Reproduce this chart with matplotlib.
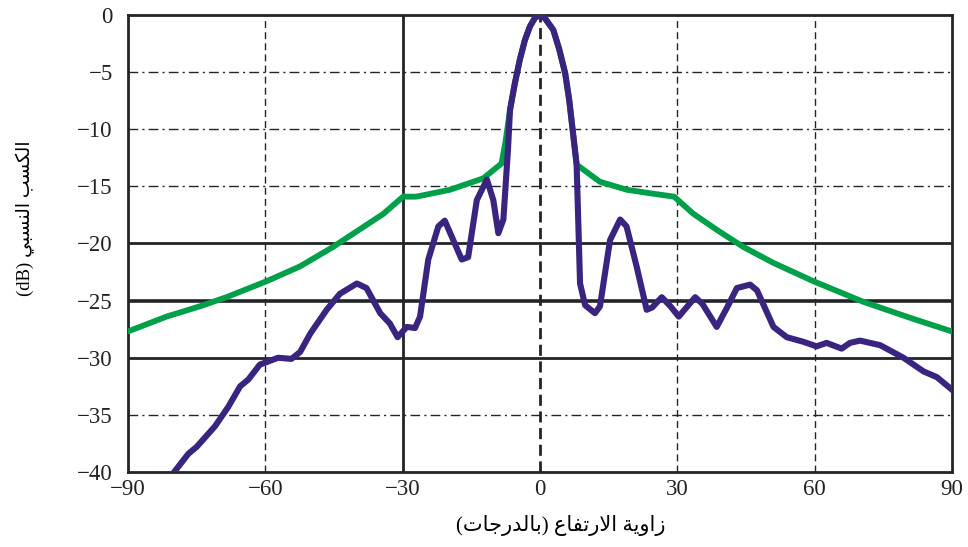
import matplotlib.pyplot as plt

# envelope (green) and measured pattern (purple), angle in degrees / gain in dB
env_angle = [-90, -81.6, -74.3, -68.5, -59.7, -52.4, -45.2, -34.2, -29.9, -27.0,
             -19.7, -12.4, -8.4, -7.5, -6.55, -5.5, -4.4, -3.3, -2.2, -1.1, 0,
             1.1, 2.9, 4.2, 5.5, 6.4, 7.2, 8.0, 13.1, 19.0, 24.0, 29.3, 33.5,
             38.6, 44.4, 51.0, 59.7, 70.6, 80.8, 90]
env_gain = [-27.7, -26.4, -25.5, -24.7, -23.3, -22.0, -20.3, -17.4, -15.9, -15.9,
            -15.3, -14.3, -13.0, -11.0, -8.3, -6.0, -3.9, -2.2, -1.0, -0.25, 0,
            -0.3, -1.3, -3.0, -5.1, -7.5, -10.3, -13.1, -14.6, -15.3, -15.6, -15.9, -17.4,
            -18.8, -20.3, -21.7, -23.3, -25.1, -26.5, -27.7]

pat_angle = [-80.1, -76.8, -75.0, -71.0, -68.1, -65.5, -63.7, -61.2, -57.2, -54.3,
             -52.4, -50.2, -46.6, -43.7, -40.0, -37.9, -34.9, -32.8, -31.1, -29.1,
             -27.3, -26.2, -24.4, -22.2, -20.8, -17.1, -15.7, -13.8, -11.6, -10.2,
             -9.1, -8.0, -7.0, -6.55, -5.5, -4.4, -3.3, -2.2, -1.1, 0,
             1.1, 2.9, 4.2, 5.5, 6.4, 7.2, 8.0, 8.75, 9.85, 12.0,
             13.1, 15.3, 17.5, 18.9, 21.1, 23.3, 24.5, 26.6, 28.5, 30.3,
             33.9, 35.5, 38.6, 41.0, 43.0, 45.9, 47.4, 51.0, 53.9, 57.5,
             60.4, 62.6, 65.9, 67.7, 69.9, 74.3, 79.4, 83.8, 86.7, 90]
pat_gain = [-40.1, -38.4, -37.8, -36.0, -34.3, -32.5, -31.9, -30.6, -30.0, -30.1,
            -29.5, -27.9, -25.8, -24.4, -23.5, -23.9, -26.1, -27.0, -28.2, -27.3,
            -27.4, -26.4, -21.4, -18.5, -18.0, -21.4, -21.2, -16.2, -14.4, -16.2,
            -19.1, -17.9, -11.8, -8.3, -6.0, -3.9, -2.2, -1.0, -0.25, 0,
            -0.3, -1.3, -3.0, -5.1, -7.5, -10.3, -13.1, -23.5, -25.4, -26.1,
            -25.5, -19.7, -17.9, -18.5, -22.0, -25.8, -25.6, -24.7, -25.5, -26.4,
            -24.7, -25.3, -27.3, -25.5, -23.9, -23.6, -24.1, -27.3, -28.2, -28.6,
            -29.0, -28.7, -29.2, -28.7, -28.5, -28.9, -30.0, -31.2, -31.7, -32.8]

x_ticks = [-90, -60, -30, 0, 30, 60, 90]
y_ticks = [0, -5, -10, -15, -20, -25, -30, -35, -40]


def visual(words):
    # words given in logical order as presentation-form glyphs; lay them out left to right
    out = []
    for w in reversed(words):
        out.append(w[::-1])
    return ' '.join(out)


# زاوية الارتفاع (بالدرجات)
w_zawiya = '\uFEAF\uFE8D\uFEED\uFEF3\uFE94'
w_irtifa = '\uFE8D\uFEFB\uFEAD\uFE97\uFED4\uFE8E\uFEC9'
w_daraja = ')\uFE91\uFE8E\uFEDF\uFEAA\uFEAD\uFE9F\uFE8E\uFE95('
xlabel = visual([w_zawiya, w_irtifa, w_daraja])

# الكسب النسبي (dB)
w_kasb = '\uFE8D\uFEDF\uFEDC\uFEB4\uFE90'
w_nisbi = '\uFE8D\uFEDF\uFEE8\uFEB4\uFE92\uFEF2'
ylabel = '(dB) ' + visual([w_kasb, w_nisbi])

plt.rcParams['font.family'] = ['Liberation Serif', 'DejaVu Sans']

fig = plt.figure(figsize=(9.68, 5.47), dpi=100)
ax = fig.add_axes([0.1322, 0.1371, 0.8513, 0.8355])

grid_c = '#222428'
for v in [-60, 30, 60]:
    ax.axvline(v, color=grid_c, lw=1.0, ls=(0, (5, 3)), zorder=1)
ax.axvline(-30, color=grid_c, lw=2.0, zorder=1)
ax.axvline(0, color=grid_c, lw=2.0, ls=(0, (4, 2)), zorder=1)
for v in [-5, -10, -15, -35]:
    ax.axhline(v, color=grid_c, lw=1.0, ls=(0, (7, 3, 1.5, 3)), zorder=1)
for v in [-20, -30]:
    ax.axhline(v, color=grid_c, lw=2.0, zorder=1)
ax.axhline(-25, color=grid_c, lw=2.6, zorder=1)

ax.plot(env_angle, env_gain, color='#00a04a', lw=4.2, solid_capstyle='round', zorder=3)
ax.plot(pat_angle, pat_gain, color='#3a2480', lw=4.4, solid_joinstyle='round', zorder=4)

ax.set_xlim(-90, 90)
ax.set_ylim(-40, 0)
ax.set_xticks(x_ticks)
ax.set_yticks(y_ticks)
ax.tick_params(length=0, labelsize=16.5, colors='#222')
ax.tick_params(axis='x', pad=5)
ax.tick_params(axis='y', pad=11)
for s in ax.spines.values():
    s.set_color(grid_c)
    s.set_linewidth(2.0)

fig.text(561 / 968, 1 - 526 / 547, xlabel, ha='center', va='center', fontsize=15)
fig.text(25 / 968, 1 - 218 / 547, ylabel, ha='center', va='center', fontsize=13.5, rotation=90)

fig.savefig('out.png', dpi=100)
